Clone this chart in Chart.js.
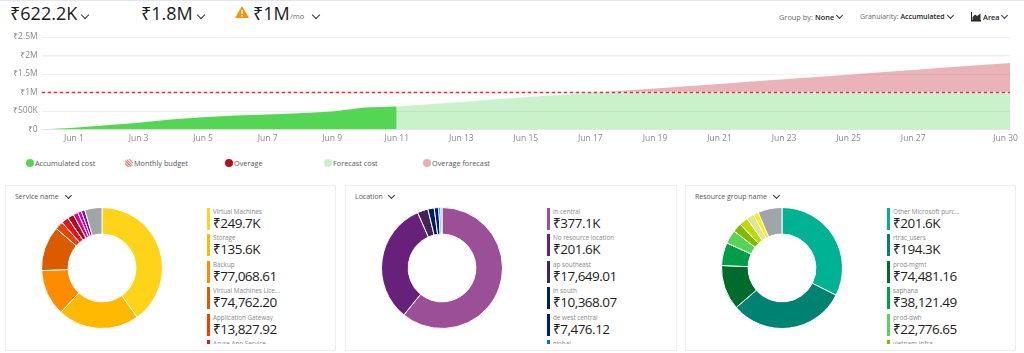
<!DOCTYPE html>
<html><head><meta charset="utf-8">
<script src="https://cdn.jsdelivr.net/npm/chart.js@4"></script>
<style>
html,body{margin:0;padding:0;background:#fff;width:1024px;height:353px;overflow:hidden;font-family:"Open Sans","Noto Sans",sans-serif}
.abs{position:absolute;white-space:nowrap}
#top{left:0;top:0;width:1024px;height:1px;background:#e6e6e6}
canvas{position:absolute}
.card{position:absolute;top:185px;height:164px;border:1px solid #eeeeee;box-sizing:content-box;overflow:hidden}
.chev{position:absolute;width:5px;height:5px;border-right:1.3px solid #333;border-bottom:1.3px solid #333;transform:rotate(45deg)}
.big{font-size:18px;color:#1a1a1a;line-height:26px}
.small{font-size:7.4px;color:#666;line-height:12px}
.small b{color:#222;font-weight:600}
.lg{font-size:7.3px;color:#555;line-height:12px}
.dot{position:absolute;width:8px;height:8px;border-radius:50%}
.title{position:absolute;left:9px;top:5px;font-size:7px;color:#555;line-height:12px}
.item{position:absolute;left:201px;width:80px;height:23px}
.bar{position:absolute;left:0;top:0;width:3px;height:22px}
.ln{position:absolute;left:6px;top:-2px;font-size:6.3px;color:#888;line-height:11px;white-space:nowrap}
.val{position:absolute;left:6px;top:5px;font-size:13.5px;letter-spacing:-.5px;color:#1c1c1c;line-height:20px;white-space:nowrap}
.clip{position:absolute;left:0;top:0;width:330px;height:158px;overflow:hidden}
</style></head><body>
<div class="abs" id="top"></div>
<div class="abs big" style="left:10px;top:0">₹622.2K</div><div class="chev" style="left:82px;top:12px"></div>
<div class="abs big" style="left:141px;top:0">₹1.8M</div><div class="chev" style="left:198px;top:12px"></div>
<svg class="abs" style="left:235px;top:6px" width="14" height="12"><path d="M7 0L14 12H0Z" fill="#f7930e"/><rect x="6.3" y="4" width="1.4" height="4" fill="#fff"/><rect x="6.3" y="9" width="1.4" height="1.500" fill="#fff"/></svg>
<div class="abs big" style="left:253px;top:0">₹1M</div>
<div class="abs" style="left:290px;top:10px;font-size:7.500px;color:#666;line-height:12px">/mo</div><div class="chev" style="left:313px;top:12px"></div>
<div class="abs small" style="left:779px;top:11px">Group by: <b>None</b></div><div class="chev" style="left:837px;top:13px;width:4px;height:4px"></div>
<div class="abs small" style="left:860px;top:11px;font-size:7px">Granularity: <b>Accumulated</b></div><div class="chev" style="left:948px;top:13px;width:4px;height:4px"></div>
<svg class="abs" style="left:971px;top:12px" width="10" height="10"><path d="M0 0V9.500H10V8H1V0Z" fill="#222"/><path d="M1.500 8V5L4 2.500 6 4 9.500 1.500V8Z" fill="#333"/></svg>
<div class="abs small" style="left:983px;top:11px"><b>Area</b></div><div class="chev" style="left:1002px;top:13px;width:4px;height:4px"></div>

<canvas id="area" width="1044" height="150" style="left:0;top:0;width:1044px;height:150px"></canvas>
<div id="legend"></div>
<div id="cards"></div>

<script>
// ---- area chart data ----
const days = ['','Jun 1','Jun 2','Jun 3','Jun 4','Jun 5','Jun 6','Jun 7','Jun 8','Jun 9','Jun 10','Jun 11','Jun 12','Jun 13','Jun 14','Jun 15','Jun 16','Jun 17','Jun 18','Jun 19','Jun 20','Jun 21','Jun 22','Jun 23','Jun 24','Jun 25','Jun 26','Jun 27','Jun 28','Jun 29','Jun 30'];
const shownDays = ['Jun 1','Jun 3','Jun 5','Jun 7','Jun 9','Jun 11','Jun 13','Jun 15','Jun 17','Jun 19','Jun 21','Jun 23','Jun 25','Jun 27','Jun 30'];
const accumulated = [0,45000,117000,180000,270000,333000,378000,405000,441000,486000,594000,622200,null,null,null,null,null,null,null,null,null,null,null,null,null,null,null,null,null,null,null];
const forecastCost = [null,null,null,null,null,null,null,null,null,null,null,622200,685000,745000,810000,870000,930000,985000,1000000,1000000,1000000,1000000,1000000,1000000,1000000,1000000,1000000,1000000,1000000,1000000,1000000];
const overageForecast = [null,null,null,null,null,null,null,null,null,null,null,null,null,null,null,null,null,0,45000,108000,170000,232000,295000,358000,420000,482000,545000,610000,675000,735000,795000];
const budget = [1000000,1000000,1000000,1000000,1000000,1000000,1000000,1000000,1000000,1000000,1000000,1000000,1000000,1000000,1000000,1000000,1000000,1000000,1000000,1000000,1000000,1000000,1000000,1000000,1000000,1000000,1000000,1000000,1000000,1000000,1000000];
const yTicks = {0:'₹0',500000:'₹500K',1000000:'₹1M',1500000:'₹1.5M',2000000:'₹2M',2500000:'₹2.5M'};
const legendNames = ['Accumulated cost','Monthly budget','Overage','Forecast cost','Overage forecast'];
const legendColors = ['#54d654','repeating-linear-gradient(45deg,#e88a8f 0 1px,#f7d5d6 1px 2px)','#b80f18','#c9f1c6','#e9aeb2'];

// ---- doughnut data ----
const serviceNames = ['Virtual Machines','Storage','Backup','Virtual Machines Lice...','Application Gateway','Azure App Service'];
const serviceValues = [249700,135600,77068.61,74762.20,13827.92,12000,10500,8000,6000,6000,28700];
const serviceLabels = ['₹249.7K','₹135.6K','₹77,068.61','₹74,762.20','₹13,827.92',''];
const serviceColors = ['#fed31a','#ffb900','#ff8c00','#da5b00','#ea4300','#e81123','#a80f1c','#e3008c','#d000a0','#7f0f91','#a0a5a9'];
const locationNames = ['in central','No resource location','ap southeast','in south','de west central','global'];
const locationValues = [377100,201600,17649.01,10368.07,7476.12,3400,1900];
const locationLabels = ['₹377.1K','₹201.6K','₹17,649.01','₹10,368.07','₹7,476.12',''];
const locationColors = ['#9b4f96','#68217a','#442359','#002050','#00188f','#0072c6','#00bcf2'];
const groupNames = ['Other Microsoft purc...','rtrac_users','prod-mgmt','saphana','prod-dwh','vietnam-infra'];
const groupValues = [201600,194300,74481.16,38121.49,22776.65,15000,14500,12500,8500,40000];
const groupLabels = ['₹201.6K','₹194.3K','₹74,481.16','₹38,121.49','₹22,776.65',''];
const groupColors = ['#00b294','#008272','#006b2d','#009e49','#55d455','#7fba00','#bad80a','#e2e58f','#fff100','#a0a5a9'];

Chart.defaults.font.family = '"Open Sans","Noto Sans",sans-serif';
Chart.defaults.animation = false;

new Chart(document.getElementById('area'), {
  type:'line',
  data:{labels:days,datasets:[
    {label:legendNames[1],data:budget,stack:'b',fill:false,borderColor:'#d8323c',borderWidth:1.3,borderDash:[3.5,2.5],pointRadius:0},
    {label:'gap',data:budget,stack:'c',fill:false,borderColor:'#ffffff',borderWidth:1.3,pointRadius:0},
    {label:legendNames[0],data:accumulated,stack:'a',fill:'origin',backgroundColor:'#54d654',borderWidth:0,pointRadius:0,tension:0},
    {label:legendNames[3],data:forecastCost,stack:'f',fill:'origin',backgroundColor:'rgba(84,214,84,.31)',borderWidth:0,pointRadius:0,tension:0},
    {label:legendNames[4],data:overageForecast,stack:'f',fill:'-1',backgroundColor:'rgba(200,60,70,.39)',borderWidth:0,pointRadius:0,tension:0}
  ]},
  options:{responsive:false,maintainAspectRatio:false,
    layout:{padding:{top:37,right:34,bottom:0,left:0}},
    plugins:{legend:{display:false},tooltip:{enabled:false}},
    scales:{
      x:{offset:false,grid:{display:false,drawTicks:false},border:{color:'#e8e8e8'},
        afterFit:s=>{s.height=20.5},
        ticks:{autoSkip:false,maxRotation:0,minRotation:0,padding:4,color:'#8a8a8a',font:{size:8.5},
          callback(v){const l=this.getLabelForValue(v);
            if(!shownDays.includes(l))return '';
            return v===days.length-1?l+'\u00a0\u00a0\u00a0\u00a0':l}}},
      y:{stacked:true,min:0,max:2500000,
        afterFit:s=>{s.width=41.7},
        grid:{color:'#efefef',drawTicks:false,lineWidth:c=>c.tick&&c.tick.value===2000000?1.6:1},border:{display:false},
        ticks:{stepSize:500000,padding:4,color:'#8a8a8a',font:{size:8.5},callback:v=>yTicks[v]}}
    }}
});

// HTML legend under the area chart
const lx=[26,125,225,324,423];
legendNames.forEach((n,i)=>{
  const d=document.createElement('div');d.className='dot';
  d.style.cssText=`left:${lx[i]}px;top:159px;background:${legendColors[i]}`;
  const t=document.createElement('div');t.className='abs lg';t.textContent=n;
  t.style.cssText=`left:${lx[i]+9}px;top:157px`;
  document.body.append(d,t);
});

function card(left,width,title,chevX,names,labels,values,colors){
  const c=document.createElement('div');c.className='card';
  c.style.left=left+'px';c.style.width=width+'px';
  c.innerHTML=`<div class="title">${title}</div><div class="chev" style="left:${chevX}px;top:7px;width:4px;height:4px"></div>`;
  const clip=document.createElement('div');clip.className='clip';c.appendChild(clip);
  names.forEach((n,i)=>{
    const it=document.createElement('div');it.className='item';it.style.top=(22+i*26.4)+'px';
    it.innerHTML=`<div class="bar" style="background:${colors[i]}"></div><div class="ln">${n}</div><div class="val">${labels[i]}</div>`;
    clip.appendChild(it);
  });
  const cv=document.createElement('canvas');cv.width=122;cv.height=122;
  cv.style.cssText='left:35px;top:21px;width:122px;height:122px';
  c.appendChild(cv);
  document.getElementById('cards').appendChild(c);
  new Chart(cv,{type:'doughnut',data:{labels:values.map((_,i)=>names[i]||'Other'),
    datasets:[{data:values,backgroundColor:colors,borderColor:'#ffffff',borderWidth:1}]},
    options:{responsive:false,cutout:'56%',plugins:{legend:{display:false},tooltip:{enabled:false}}}});
}
card(5,329,'Service name',60,serviceNames,serviceLabels,serviceValues,serviceColors);
card(345,330,'Location',43,locationNames,locationLabels,locationValues,locationColors);
card(685,329,'Resource group name',88,groupNames,groupLabels,groupValues,groupColors);
</script>
</body></html>
